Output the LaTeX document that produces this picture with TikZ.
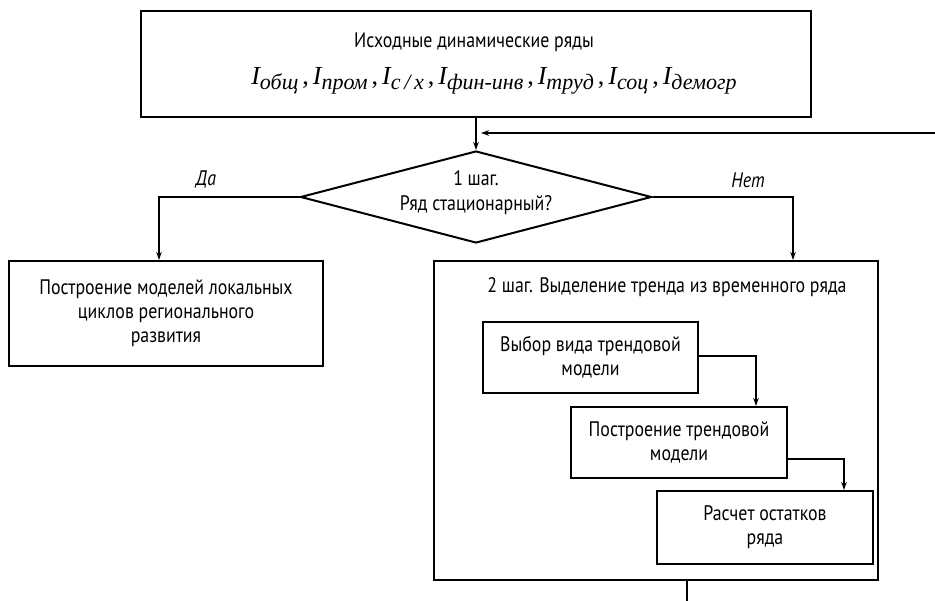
\documentclass[tikz,border=0pt]{standalone}
\usepackage{fontspec}
\setmainfont{PT Sans}[FakeStretch=0.85]
\newfontfamily\serf{Liberation Serif}
\usetikzlibrary{shapes.geometric,arrows.meta,calc}
\newcommand\Ivar[1]{{\serf\itshape\fontsize{26}{28}\selectfont I\raisebox{-0.45ex}{\fontsize{22}{22}\selectfont #1}}}
\newcommand\cm{{\serf\fontsize{26}{28}\selectfont\hspace{4pt},\hspace{4pt}}}
\begin{document}
\begin{tikzpicture}[x=1pt,y=-1pt,
  box/.style={draw, line width=2pt, inner sep=0pt, align=center, font=\fontsize{21}{24}\selectfont},
  plain/.style={font=\fontsize{21}{25}\selectfont, align=center},
  conn/.style={line width=1.4pt},
  arr/.style={line width=1.4pt, -{Stealth[length=8pt,width=5.5pt]}},
  lbl/.style={font=\fontsize{21}{24}\selectfont\itshape}]
\useasboundingbox (0,0) rectangle (935,601);
% top box
\node[box, minimum width=670pt, minimum height=106pt] (top) at (476,64) {};
\node[plain] (toptxt) at (474,42) {Исходные динамические ряды};
\node[inner sep=0pt] (formula) at (494,81) {\Ivar{общ}\cm\Ivar{пром}\cm\Ivar{с\,/\,х}\cm\Ivar{фин-инв}\cm\Ivar{труд}\cm\Ivar{соц}\cm\Ivar{демогр}};
% diamond
\node[draw, shape=diamond, line width=2pt, inner sep=0pt, minimum width=351pt, minimum height=92pt] (dia) at (476,197) {};
\node[plain] (diatxt) at (476,193) {1 шаг.\\Ряд стационарный?};
% left box
\node[box, minimum width=314pt, minimum height=105pt] (left) at (166,313.5) {Построение моделей локальных\\циклов регионального\\развития};
% big box
\node[box, minimum width=444pt, minimum height=319pt] (big) at (656,420.5) {};
\node[plain] (bigtitle) at (667,287) {2 шаг. Выделение тренда из временного ряда};
% inner boxes
\node[box, minimum width=215pt, minimum height=71pt] (b1) at (590.5,357.5) {Выбор вида трендовой\\модели};
\node[box, minimum width=216pt, minimum height=71pt] (b2) at (679,442.5) {Построение трендовой\\модели};
\node[box, minimum width=216pt, minimum height=73pt] (b3) at (765,527.5) {Расчет остатков\\ряда};
% labels
\node[lbl] (da) at (206,180) {Да};
\node[lbl] (net) at (748,180) {Нет};
% coordinates
\coordinate (fbstart) at (935,133);
\coordinate (fbend) at (481,133);
\coordinate (bottomend) at (687,601);
\coordinate (bigbot) at (687,580);
\coordinate (dabend) at (159,197);
\coordinate (netbend) at (793,197);
% connectors
\draw[arr] (top.south) -- (dia.north);
\draw[arr] (fbstart) -- (fbend);
\draw[arr] (dia.west) -- (dabend) -- (dabend |- left.north);
\draw[arr] (dia.east) -- (netbend) -- (netbend |- big.north);
\coordinate (b1out) at ($(b1.east)+(0,-1.5)$);
\coordinate (b2in) at ($(b2.north east)+(-32,0)$);
\draw[arr] (b1out) -| (b2in);
\coordinate (b2out) at ($(b2.east)+(0,16.5)$);
\coordinate (b3in) at ($(b3.north east)+(-30,0)$);
\draw[arr] (b2out) -| (b3in);
\draw[conn] (bigbot) -- (bottomend);
\end{tikzpicture}
\end{document}
